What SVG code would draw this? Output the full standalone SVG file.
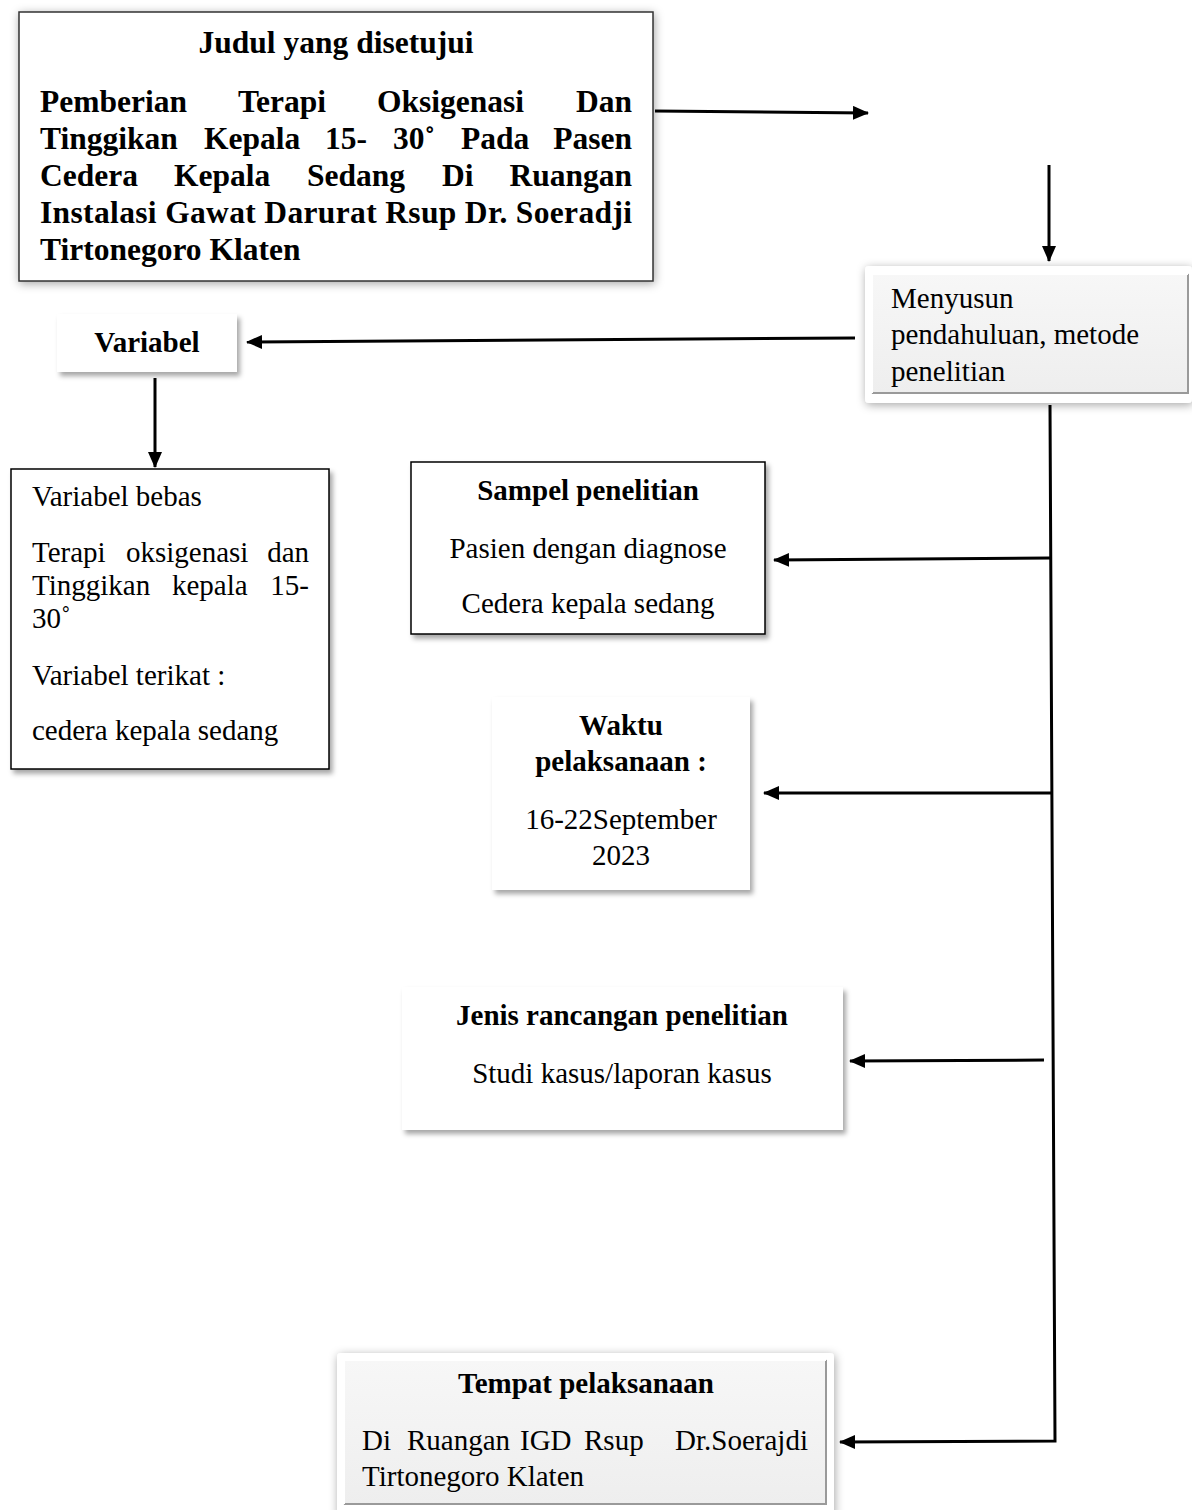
<svg xmlns="http://www.w3.org/2000/svg" width="1192" height="1510" viewBox="0 0 1192 1510">
<style>
text{font-family:"Liberation Serif","Times New Roman",serif;fill:#000;}
.b{font-weight:bold;font-size:29px;}
.t{font-weight:bold;font-size:31.5px;}
.r{font-size:29px;}
.c{text-anchor:middle;}
.e{text-anchor:end;}
.conn{stroke:#000;stroke-width:3;fill:none;}
</style>
<defs>
<filter id="glow" x="-10%" y="-10%" width="120%" height="125%">
<feDropShadow dx="1" dy="2" stdDeviation="5" flood-color="#000" flood-opacity="0.35"/>
</filter>
<filter id="sh" x="-10%" y="-10%" width="125%" height="130%">
<feDropShadow dx="3" dy="4" stdDeviation="2.5" flood-color="#000" flood-opacity="0.35"/>
</filter>
<linearGradient id="bev" x1="0" y1="0" x2="0" y2="1">
<stop offset="0" stop-color="#f7f7f7"/>
<stop offset="1" stop-color="#eeeeee"/>
</linearGradient>
<marker id="ah" markerUnits="userSpaceOnUse" markerWidth="18" markerHeight="16" refX="15" refY="7" orient="auto">
<path d="M0,0 L16,7 L0,14 Z" fill="#000"/>
</marker>
</defs>

<g id="connectors">
<path class="conn" d="M655,111 L868,113" marker-end="url(#ah)"/>
<path class="conn" d="M1049,165 L1049,261" marker-end="url(#ah)"/>
<path class="conn" d="M855,338 L247,342" marker-end="url(#ah)"/>
<path class="conn" d="M155,378 L155,467" marker-end="url(#ah)"/>
<path class="conn" d="M1050,405 L1055,1441 L840,1442" marker-end="url(#ah)"/>
<path class="conn" d="M1050,558 L774,560" marker-end="url(#ah)"/>
<path class="conn" d="M1051,793 L764,793" marker-end="url(#ah)"/>
<path class="conn" d="M1044,1060 L850,1061" marker-end="url(#ah)"/>
</g>

<g id="judul">
<rect x="19" y="12" width="634" height="269" fill="#fff" stroke="#333" stroke-width="1.5" filter="url(#glow)"/>
<text class="t c" x="336" y="53">Judul yang disetujui</text>
<text class="t" y="112"><tspan x="40">Pemberian</tspan><tspan x="238">Terapi</tspan><tspan x="377">Oksigenasi</tspan></text>
<text class="t e" x="632" y="112">Dan</text>
<text class="t" y="149"><tspan x="40">Tinggikan</tspan><tspan x="204">Kepala</tspan><tspan x="325">15-</tspan><tspan x="393">30˚</tspan><tspan x="461">Pada</tspan></text>
<text class="t e" x="632" y="149">Pasen</text>
<text class="t" y="186"><tspan x="40">Cedera</tspan><tspan x="174">Kepala</tspan><tspan x="307">Sedang</tspan><tspan x="442">Di</tspan></text>
<text class="t e" x="632" y="186">Ruangan</text>
<text class="t" x="40" y="223" textLength="592" lengthAdjust="spacing">Instalasi Gawat Darurat Rsup  Dr. Soeradji</text>
<text class="t" x="40" y="260">Tirtonegoro Klaten</text>
</g>

<g id="menyusun">
<rect x="865" y="266" width="327" height="137" rx="4" fill="#fff" filter="url(#glow)"/>
<rect x="872" y="274" width="316" height="119" fill="url(#bev)" stroke="#d0d0d0" stroke-width="1"/>
<path d="M872,393 L1188,393 L1188,274" fill="none" stroke="#9a9a9a" stroke-width="2"/>
<path d="M872,393 L872,274 L1188,274" fill="none" stroke="#ffffff" stroke-width="2"/>
<text class="r" x="891" y="308">Menyusun</text>
<text class="r" x="891" y="344">pendahuluan, metode</text>
<text class="r" x="891" y="381">penelitian</text>
</g>

<g id="variabel">
<rect x="57" y="314" width="180" height="58" fill="#fff" filter="url(#sh)"/>
<text class="b c" x="147" y="352">Variabel</text>
</g>

<g id="variabel-detail">
<rect x="11" y="469" width="318" height="300" fill="#fff" stroke="#000" stroke-width="1.5" filter="url(#sh)"/>
<text class="r" x="32" y="506">Variabel bebas</text>
<text class="r" y="562"><tspan x="32">Terapi</tspan><tspan x="126">oksigenasi</tspan></text>
<text class="r e" x="309" y="562">dan</text>
<text class="r" y="595"><tspan x="32">Tinggikan</tspan><tspan x="172">kepala</tspan></text>
<text class="r e" x="309" y="595">15-</text>
<text class="r" x="32" y="628">30˚</text>
<text class="r" x="32" y="685">Variabel terikat :</text>
<text class="r" x="32" y="740">cedera kepala sedang</text>
</g>

<g id="sampel">
<rect x="411" y="462" width="354" height="172" fill="#fff" stroke="#000" stroke-width="1.5" filter="url(#sh)"/>
<text class="b c" x="588" y="500">Sampel penelitian</text>
<text class="r c" x="588" y="558">Pasien dengan diagnose</text>
<text class="r c" x="588" y="613">Cedera kepala sedang</text>
</g>

<g id="waktu">
<rect x="492" y="697" width="258" height="193" fill="#fff" filter="url(#sh)"/>
<text class="b c" x="621" y="735">Waktu</text>
<text class="b c" x="621" y="771">pelaksanaan :</text>
<text class="r c" x="621" y="829">16-22September</text>
<text class="r c" x="621" y="865">2023</text>
</g>

<g id="jenis">
<rect x="402" y="987" width="441" height="143" fill="#fff" filter="url(#sh)"/>
<text class="b c" x="622" y="1025">Jenis rancangan penelitian</text>
<text class="r c" x="622" y="1083">Studi kasus/laporan kasus</text>
</g>

<g id="tempat">
<rect x="337" y="1353" width="497" height="165" rx="4" fill="#fff" filter="url(#glow)"/>
<rect x="344" y="1360" width="482" height="144" fill="url(#bev)" stroke="#d0d0d0" stroke-width="1"/>
<path d="M344,1504 L826,1504 L826,1360" fill="none" stroke="#9a9a9a" stroke-width="2"/>
<path d="M344,1504 L344,1360 L826,1360" fill="none" stroke="#ffffff" stroke-width="2"/>
<text class="b c" x="586" y="1393">Tempat pelaksanaan</text>
<text class="r" y="1450"><tspan x="362">Di</tspan><tspan x="407">Ruangan</tspan><tspan x="520">IGD</tspan><tspan x="584">Rsup</tspan></text>
<text class="r e" x="808" y="1450">Dr.Soerajdi</text>
<text class="r" x="362" y="1486">Tirtonegoro Klaten</text>
</g>
</svg>
